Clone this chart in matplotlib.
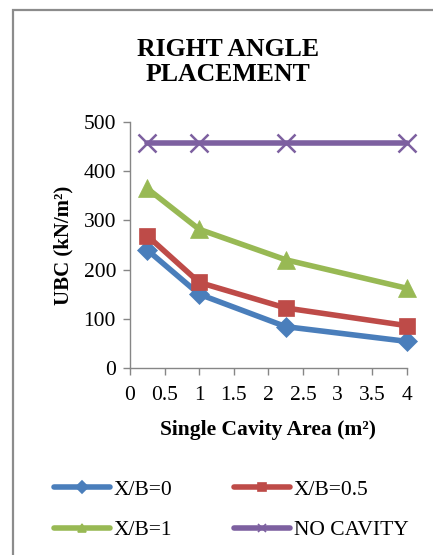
import matplotlib
matplotlib.use("Agg")
import matplotlib.pyplot as plt
from matplotlib.lines import Line2D
from matplotlib.patches import Rectangle

plt.rcParams['font.family'] = ['Liberation Serif', 'DejaVu Serif']

area = [0.25, 1, 2.25, 4]
ubc_xb0 = [240, 150, 84, 54]
ubc_xb05 = [269, 174, 122, 86]
ubc_xb1 = [365, 282, 220, 162]
ubc_none = [458, 458, 458, 458]

series = [
    ("X/B=0", ubc_xb0, "#4A7EBB", "D", 10),
    ("X/B=0.5", ubc_xb05, "#BE4B48", "s", 12),
    ("X/B=1", ubc_xb1, "#98B954", "^", 13),
    ("NO CAVITY", ubc_none, "#7D60A0", "x", 13),
]

fig = plt.figure(figsize=(4.33, 5.55), dpi=100)
ax = fig.add_axes([0.300, 0.337, 0.640, 0.443])

handles = []
for label, vals, color, marker, ms in series:
    ax.plot(area, vals, color=color, lw=4.0, marker=marker, ms=ms,
            mew=1.8 if marker == "x" else 0.5, mec=color, mfc=color,
            solid_capstyle="round", clip_on=False, zorder=3)
    handles.append(Line2D([], [], color=color, lw=4.0, marker=marker,
                          ms=6, mec=color, mfc=color, mew=1.2,
                          solid_capstyle="round", label=label))

ax.set_xlim(0, 4)
ax.set_ylim(0, 500)
ax.set_xticks([0, 0.5, 1, 1.5, 2, 2.5, 3, 3.5, 4])
ax.set_xticklabels(["0", "0.5", "1", "1.5", "2", "2.5", "3", "3.5", "4"])
ax.set_yticks([0, 100, 200, 300, 400, 500])

axis_gray = "#868686"
for side in ("top", "right"):
    ax.spines[side].set_visible(False)
for side in ("left", "bottom"):
    ax.spines[side].set_color(axis_gray)
    ax.spines[side].set_linewidth(1.0)
ax.tick_params(axis="both", colors=axis_gray, labelcolor="black",
               labelsize=15.5, length=5, width=1.0, direction="out")
ax.tick_params(axis="x", pad=8)
ax.tick_params(axis="y", pad=5)

ax.set_xlabel("Single Cavity Area (m²)", fontsize=15.5, fontweight="bold", labelpad=11)
ax.set_ylabel("UBC (kN/m²)", fontsize=15, fontweight="bold", labelpad=7)

fig.text(0.527, 0.888, "RIGHT ANGLE\nPLACEMENT", ha="center", va="center",
         fontsize=18.5, fontweight="bold", linespacing=1.1)

# row-major order: X/B=0, X/B=0.5 on the first row
order = [0, 2, 1, 3]
fig.legend(handles=[handles[i] for i in order], ncol=2, loc="center",
           bbox_to_anchor=(0.534, 0.081), frameon=False, fontsize=15.5,
           handlelength=2.6, handletextpad=0.15, columnspacing=2.9,
           labelspacing=0.95)

# chart-area border
fig.add_artist(Rectangle((13 / 433, -0.1), 1.2, 1 - 10 / 555 + 0.1,
                         transform=fig.transFigure, fill=False,
                         edgecolor="#8C8C8C", lw=1.6))

fig.savefig("out.png", dpi=100)
